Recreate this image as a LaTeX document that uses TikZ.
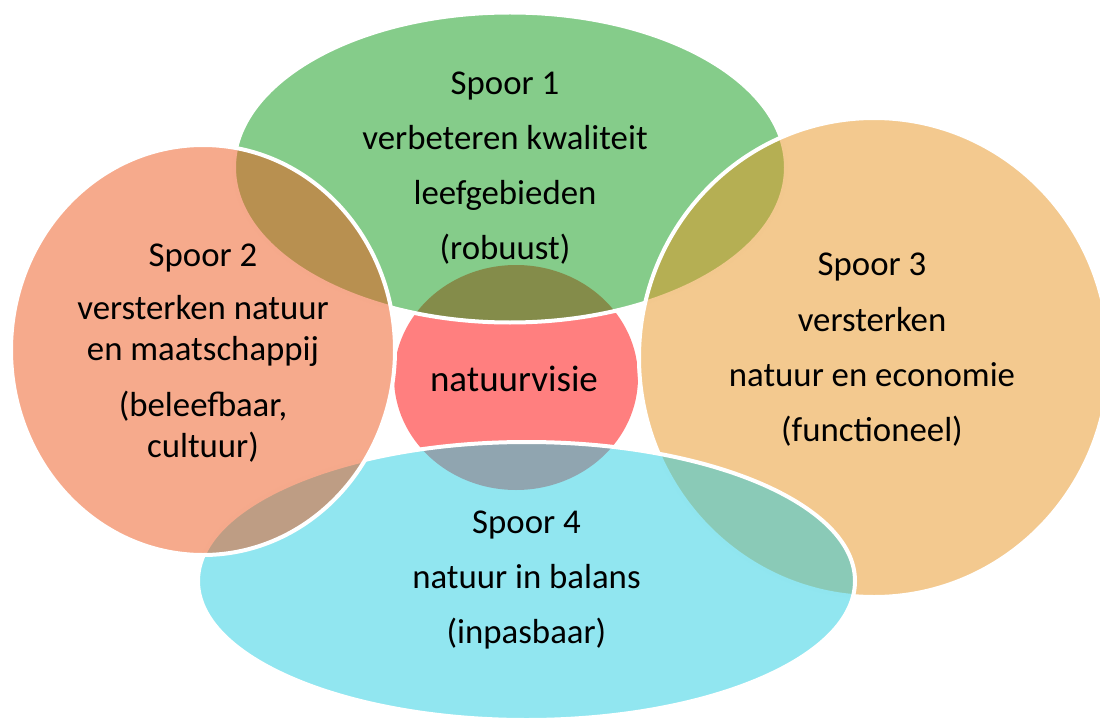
\documentclass[tikz,border=0pt]{standalone}
\usepackage{fontspec}
\setmainfont{Carlito}
\usepackage{xcolor}
\definecolor{gr}{RGB}{11,153,21}
\definecolor{sa}{RGB}{237,85,25}
\definecolor{or}{RGB}{231,147,31}
\definecolor{bl}{RGB}{35,205,225}
\usepackage{tikz}
\usetikzlibrary{shapes.geometric}
\tikzstyle{spoor} = [ellipse, draw=white, line width=4pt, fill opacity=0.5, inner sep=0pt]
\tikzstyle{txt} = [align=center, inner sep=0pt, font=\fontsize{34.8}{41}\selectfont]

\begin{document}
\begin{tikzpicture}[x=1pt, y=-1pt]
    \useasboundingbox (0,0) rectangle (1100,722);
    % centre
    \node[ellipse, fill=red, fill opacity=0.5, inner sep=0pt,
          minimum width=244pt, minimum height=225pt] (mid) at (516,377.5) {};
    % the four tracks
    \node[spoor, fill=gr, minimum width=552pt, minimum height=310pt] (s1) at (510,167.5) {};
    \node[spoor, fill=or, minimum width=470pt, minimum height=479pt] (s3) at (874,357.5) {};
    \node[spoor, fill=bl, minimum width=657pt, minimum height=278pt] (s4) at (526.5,581) {};
    \node[spoor, fill=sa, minimum width=384pt, minimum height=410pt] (s2) at (203,350) {};
    
    % texts
    \node[txt] (t1) at ([xshift=-5pt,yshift=-1pt]s1.center)
    {Spoor 1\\[14pt] verbeteren kwaliteit\\[14pt] leefgebieden\\[14pt] (robuust)};
    \node[txt] (t2) at ([yshift=-3pt]s2.center)
    {Spoor 2\\[12pt] versterken natuur\\ en maatschappij\\[15pt] (beleefbaar,\\ cultuur)};
    \node[txt] (t3) at ([xshift=-2pt,yshift=8pt]s3.center)
    {Spoor 3\\[15pt] versterken\\[14pt] natuur en economie\\[14pt] (functioneel)};
    \node[txt] (t4) at ([yshift=1pt]s4.center)
    {Spoor 4\\[14pt] natuur in balans\\[14pt] (inpasbaar)};
    \node[txt, font=\fontsize{37}{41}\selectfont] (tm) at ([xshift=-2pt,yshift=-1pt]mid.center) {natuurvisie};
\end{tikzpicture}
\end{document}
